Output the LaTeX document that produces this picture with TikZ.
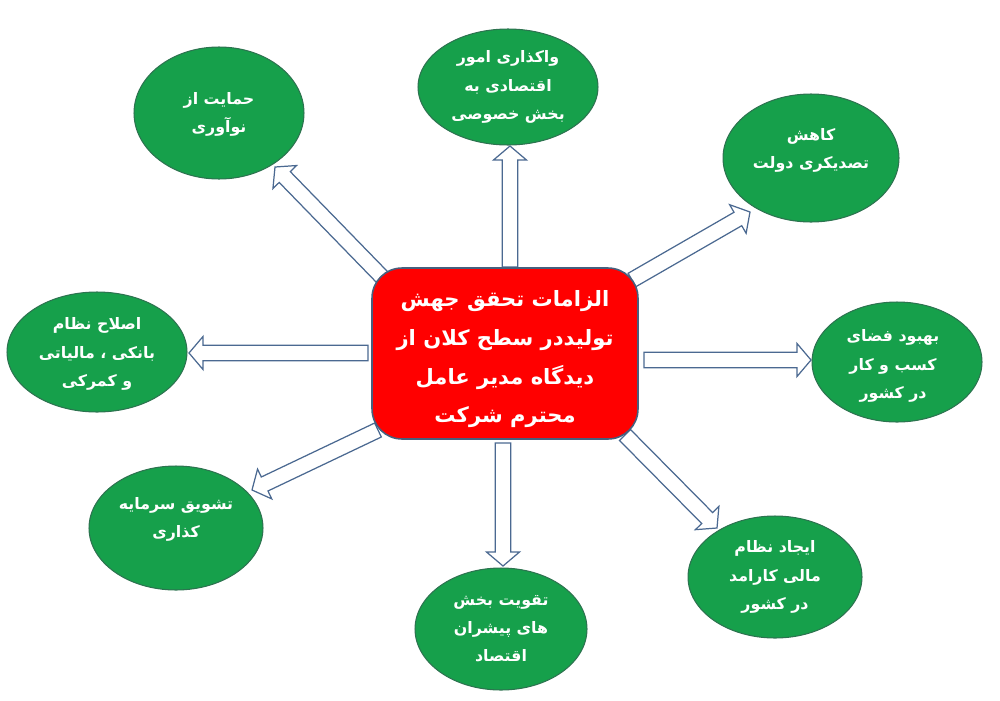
\documentclass[tikz,border=0pt]{standalone}
\usepackage{fontspec}
\TeXXeTstate=1
\newfontfamily\fa[Script=Arabic]{DejaVu Sans}
\usetikzlibrary{shapes.geometric,calc,backgrounds}
\definecolor{boxred}{RGB}{255,0,0}
\definecolor{boxedge}{RGB}{70,95,125}
\definecolor{egreen}{RGB}{22,160,75}
\definecolor{eedge}{RGB}{45,115,80}
\definecolor{arrowedge}{RGB}{75,105,145}
\newcommand\rl[1]{\beginR #1\endR}
\newcommand\fatarrow[2]{%
  \coordinate (hb) at ($(#2)!0.28cm!(#1)$);
  \draw[fatline] ($(#1)!0.155cm!90:(#2)$) -- ($(hb)!0.155cm!90:(#2)$) -- ($(hb)!0.33cm!90:(#2)$) -- (#2)
     -- ($(hb)!0.33cm!-90:(#2)$) -- ($(hb)!0.155cm!-90:(#2)$) -- ($(#1)!0.155cm!-90:(#2)$) -- cycle;}
\begin{document}
\begin{tikzpicture}[x=0.02cm,y=-0.02cm,
  bubble/.style={ellipse, fill=egreen, draw=eedge, line width=0.6pt, inner sep=0pt},
  btext/.style={text=white, font=\fa\bfseries\fontsize{9}{16}\selectfont, align=center, inner sep=0pt},
  hub/.style={rectangle, rounded corners=0.6cm, fill=boxred, draw=boxedge, line width=0.9pt,
     minimum width=5.32cm, minimum height=3.42cm},
  hubtext/.style={text=white, inner sep=0pt,
     font=\fa\bfseries\fontsize{12}{22}\selectfont, align=center},
  fatline/.style={draw=arrowedge, fill=white, line width=0.7pt, line join=miter}]
\useasboundingbox (0,0) rectangle (1000,700);

\node[hub] (hub) at (505,353.5) {};
\node[hubtext] (hubt) at ($(hub)+(0,6)$) {\rl{الزامات تحقق جهش}\\\rl{تولیددر سطح کلان  از}\\\rl{دیدگاه مدیر عامل}\\\rl{محترم شرکت}};

\node[bubble, minimum width=3.4cm, minimum height=2.64cm] (eTL) at (219,113) {};
\node[bubble, minimum width=3.6cm, minimum height=2.32cm] (eT) at (508,87) {};
\node[bubble, minimum width=3.52cm, minimum height=2.56cm] (eTR) at (811,158) {};
\node[bubble, minimum width=3.4cm, minimum height=2.4cm] (eR) at (897,362) {};
\node[bubble, minimum width=3.48cm, minimum height=2.44cm] (eBR) at (775,577) {};
\node[bubble, minimum width=3.44cm, minimum height=2.44cm] (eB) at (501,629) {};
\node[bubble, minimum width=3.48cm, minimum height=2.48cm] (eBL) at (176,528) {};
\node[bubble, minimum width=3.6cm, minimum height=2.4cm] (eL) at (97,352) {};

\node[btext] (tTL) at ($(eTL)+(0,1)$) {\rl{حمایت از}\\\rl{نوآوری}};
\node[btext] (tT) at (eT) {\rl{واکذاری امور}\\\rl{اقتصادی به}\\\rl{بخش خصوصی}};
\node[btext] (tTR) at ($(eTR)+(0,-8)$) {\rl{کاهش}\\\rl{تصدیکری دولت}};
\node[btext] (tR) at ($(eR)+(-4,4)$) {\rl{بهبود فضای}\\\rl{کسب و کار}\\\rl{در کشور}};
\node[btext] (tBR) at (eBR) {\rl{ایجاد نظام}\\\rl{مالی کارامد}\\\rl{در کشور}};
\node[btext] (tB) at (eB) {\rl{تقویت بخش}\\\rl{های پیشران}\\\rl{اقتصاد}};
\node[btext] (tBL) at ($(eBL)+(0,-9)$) {\rl{تشویق سرمایه}\\\rl{کذاری}};
\node[btext] (tL) at ($(eL)+(0,2)$) {\rl{اصلاح نظام}\\\rl{بانکی ، مالیاتی}\\\rl{و کمرکی}};

\coordinate (sTL) at (382,277); \coordinate (pTL) at (275,167);
\coordinate (sT) at (510,267);  \coordinate (pT) at (510,146);
\coordinate (sTR) at (632,280); \coordinate (pTR) at (750,212);
\coordinate (sR) at (644,360);  \coordinate (pR) at (811,360);
\coordinate (sBR) at (625,435); \coordinate (pBR) at (717,528);
\coordinate (sB) at (503,443);  \coordinate (pB) at (503,566);
\coordinate (sBL) at (378,430); \coordinate (pBL) at (252,490);
\coordinate (sL) at (368,353);  \coordinate (pL) at (189,353);

\begin{scope}[on background layer]
\fatarrow{sTL}{pTL}
\fatarrow{sT}{pT}
\fatarrow{sTR}{pTR}
\fatarrow{sR}{pR}
\fatarrow{sBR}{pBR}
\fatarrow{sB}{pB}
\fatarrow{sBL}{pBL}
\fatarrow{sL}{pL}
\end{scope}
\end{tikzpicture}
\end{document}
